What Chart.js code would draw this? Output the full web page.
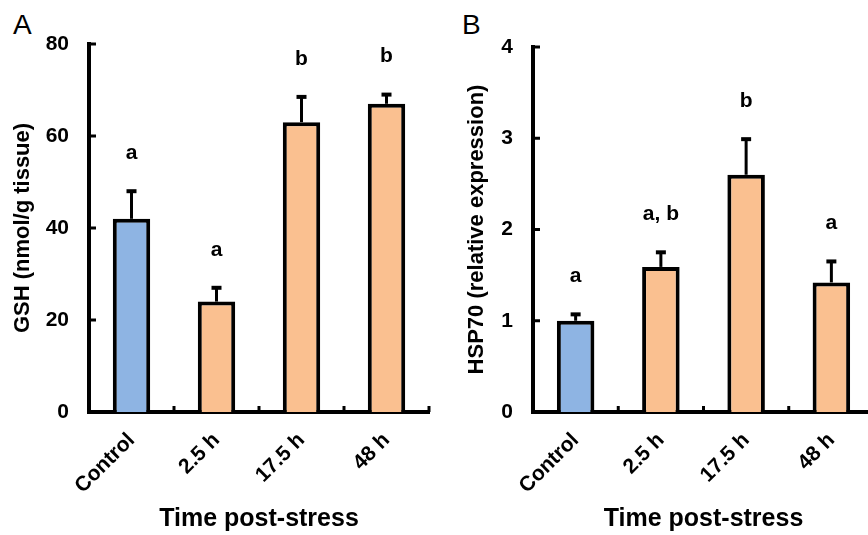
<!DOCTYPE html>
<html>
<head>
<meta charset="utf-8">
<script src="https://cdn.jsdelivr.net/npm/chart.js@4"></script>
<style>
  html, body { margin: 0; padding: 0; background: #fff; overflow: hidden; }
  body { width: 868px; height: 535px; position: relative; }
  .panel { position: absolute; top: 0; height: 535px; }
  .tag { position: absolute; font: 28px "Liberation Sans", Arial, sans-serif; line-height: 1; color: #000; }
</style>
</head>
<body>
<div class="tag" style="left:13px; top:11px;">A</div>
<div class="tag" style="left:462px; top:11px;">B</div>
<div class="panel" style="left:0; width:434px;"><canvas id="chartA" width="434" height="535"></canvas></div>
<div class="panel" style="left:434px; width:445px;"><canvas id="chartB" width="445" height="535"></canvas></div>
<script>
const categories = ["Control", "2.5 h", "17.5 h", "48 h"];
const barColors = ["#8EB4E3", "#FAC090", "#FAC090", "#FAC090"];

const gshMeans = [42, 24, 63, 67];
const gshErrors = [6, 3, 5.5, 2];
const gshLetters = ["a", "a", "b", "b"];

const hspMeans = [1.0, 1.59, 2.6, 1.42];
const hspErrors = [0.07, 0.16, 0.39, 0.23];
const hspLetters = ["a", "a, b", "b", "a"];

const FONT = '"Liberation Sans", Arial, sans-serif';

// error bars, significance letters and the small inward tick marks
const extras = {
  id: "extras",
  afterDatasetsDraw(chart, args, opts) {
    const ctx = chart.ctx;
    const x = chart.scales.x;
    const y = chart.scales.y;
    const area = chart.chartArea;
    ctx.save();
    ctx.strokeStyle = "#000";
    ctx.fillStyle = "#000";

    // y ticks pointing into the plot
    ctx.lineWidth = 3;
    y.ticks.forEach(t => {
      const py = y.getPixelForValue(t.value);
      ctx.beginPath();
      ctx.moveTo(area.left, py);
      ctx.lineTo(area.left + 7, py);
      ctx.stroke();
    });
    // x ticks between categories
    for (let i = 1; i <= categories.length; i++) {
      let px;
      if (i < categories.length) {
        px = (x.getPixelForValue(i - 1) + x.getPixelForValue(i)) / 2;
      } else {
        px = x.getPixelForValue(i - 1) + (x.getPixelForValue(1) - x.getPixelForValue(0)) / 2;
      }
      ctx.beginPath();
      ctx.moveTo(px, area.bottom);
      ctx.lineTo(px, area.bottom - 6);
      ctx.stroke();
    }

    const meta = chart.getDatasetMeta(0);
    ctx.font = "bold 21px " + FONT;
    ctx.textAlign = "center";
    ctx.textBaseline = "middle";
    meta.data.forEach((bar, i) => {
      const top = y.getPixelForValue(opts.means[i]);
      const errTop = y.getPixelForValue(opts.means[i] + opts.errors[i]);
      ctx.lineWidth = 3;
      ctx.beginPath();
      ctx.moveTo(bar.x, top);
      ctx.lineTo(bar.x, errTop);
      ctx.stroke();
      ctx.lineWidth = 4;
      ctx.beginPath();
      ctx.moveTo(bar.x - 5, errTop);
      ctx.lineTo(bar.x + 5, errTop);
      ctx.stroke();
      ctx.fillText(opts.letters[i], bar.x, errTop - 38);
    });
    ctx.restore();
  }
};

function makeChart(id, means, errors, letters, yMax, yStep, yTitle, opts) {
  const ctx = document.getElementById(id).getContext("2d");
  return new Chart(ctx, {
    type: "bar",
    data: {
      labels: categories,
      datasets: [{
        data: means,
        backgroundColor: barColors,
        borderColor: "#000",
        borderWidth: 4,
        borderSkipped: "bottom",
        barPercentage: 0.44,
        categoryPercentage: 1.0
      }]
    },
    options: {
      responsive: false,
      animation: false,
      layout: { padding: { left: 0, top: opts.top, right: opts.right, bottom: 0 } },
      plugins: {
        legend: { display: false },
        tooltip: { enabled: false },
        extras: { means: means, errors: errors, letters: letters }
      },
      scales: {
        x: {
          grid: { display: false },
          border: { display: true, color: "#000", width: 4 },
          ticks: {
            color: "#000",
            font: { family: FONT, size: 21, weight: "bold" },
            minRotation: 45,
            maxRotation: 45,
            autoSkip: false,
            padding: 8
          },
          title: {
            display: true,
            text: "Time post-stress",
            color: "#000",
            font: { family: FONT, size: 25, weight: "bold" },
            padding: { top: 0, bottom: 1 }
          },
          afterFit(scale) { scale.height = 123; }
        },
        y: {
          min: 0,
          max: yMax,
          grid: { display: false },
          border: { display: true, color: "#000", width: 4 },
          ticks: {
            stepSize: yStep,
            color: "#000",
            font: { family: FONT, size: 21, weight: "bold" },
            padding: 12
          },
          title: {
            display: true,
            text: yTitle,
            color: "#000",
            font: { family: FONT, size: 22, weight: "bold" },
            padding: { top: opts.titlePad, bottom: 0 }
          },
          afterFit(scale) { scale.width = opts.yWidth; }
        }
      }
    },
    plugins: [extras]
  });
}

makeChart("chartA", gshMeans, gshErrors, gshLetters, 80, 20, "GSH (nmol/g tissue)",
  { top: 44, right: 5, yWidth: 89, titlePad: 10 });
makeChart("chartB", hspMeans, hspErrors, hspLetters, 4, 1, "HSP70 (relative expression)",
  { top: 47, right: 5, yWidth: 99, titlePad: 30 });
</script>
</body>
</html>
